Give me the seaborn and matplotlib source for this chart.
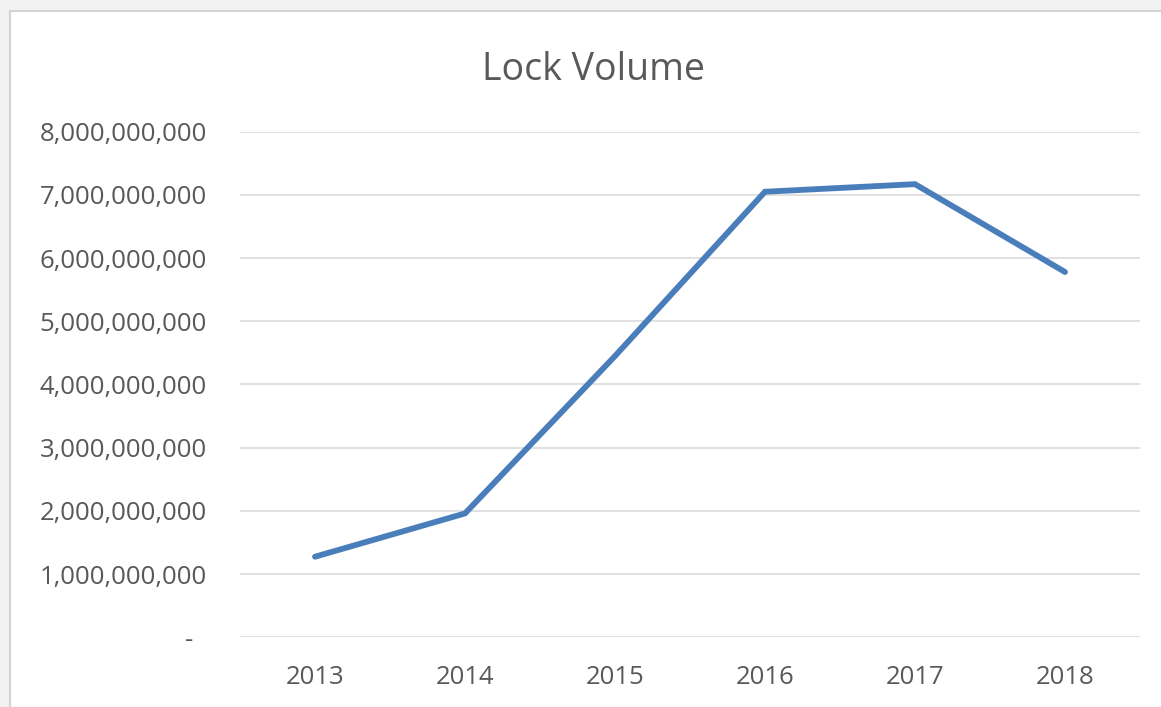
import matplotlib
matplotlib.use("Agg")
import matplotlib.pyplot as plt
import seaborn as sns
import pandas as pd
from matplotlib.patches import Rectangle
from matplotlib.ticker import FuncFormatter

years = [2013, 2014, 2015, 2016, 2017, 2018]
lock_volume = [1.275e9, 1.96e9, 4.45e9, 7.05e9, 7.17e9, 5.78e9]
y_ticks = [0, 1e9, 2e9, 3e9, 4e9, 5e9, 6e9, 7e9, 8e9]
title = "Lock Volume"

sns.set_theme(style="white")
plt.rcParams["font.family"] = ["Open Sans", "DejaVu Sans"]

W, H = 1161, 707
fig = plt.figure(figsize=(W / 100, H / 100), dpi=100)
fig.patch.set_facecolor("#f2f2f2")

# chart area background with border
bg = Rectangle((10 / W, -0.1), 1.2, 1.1 - 11 / H, transform=fig.transFigure,
               facecolor="white", edgecolor="#d4d4d4", linewidth=1.5, zorder=-5)
fig.patches.append(bg)

ax = fig.add_axes([240 / W, 1 - 637.3 / H, 900 / W, (637.3 - 131.7) / H])
ax.set_facecolor("none")
ax.set_zorder(2)

df = pd.DataFrame({"year": years, "volume": lock_volume})
sns.lineplot(data=df, x="year", y="volume", ax=ax, color="#4a7ebb",
             linewidth=4.2, solid_capstyle="round", solid_joinstyle="miter")

ax.set_xlim(years[0] - 0.5, years[-1] + 0.5)
ax.set_ylim(y_ticks[0], y_ticks[-1])
ax.set_xticks(years)
ax.set_xticklabels([str(y) for y in years])
ax.set_yticks(y_ticks)
ax.yaxis.set_major_formatter(FuncFormatter(lambda v, p: "-  " if v == 0 else f"{v:,.0f}"))
ax.grid(axis="y", color="#d9d9d9", linewidth=1.1)
ax.set_axisbelow(True)
for s in ax.spines.values():
    s.set_visible(False)
ax.tick_params(axis="both", length=0, labelsize=18.5, labelcolor="#595959")
ax.tick_params(axis="y", pad=24)
ax.tick_params(axis="x", pad=20)
ax.set_xlabel("")
ax.set_ylabel("")

fig.text(594 / W, 1 - 80 / H, title, ha="center", va="baseline",
         fontsize=27, color="#595959", zorder=3)

fig.savefig("out.png", dpi=100, facecolor=fig.get_facecolor())
